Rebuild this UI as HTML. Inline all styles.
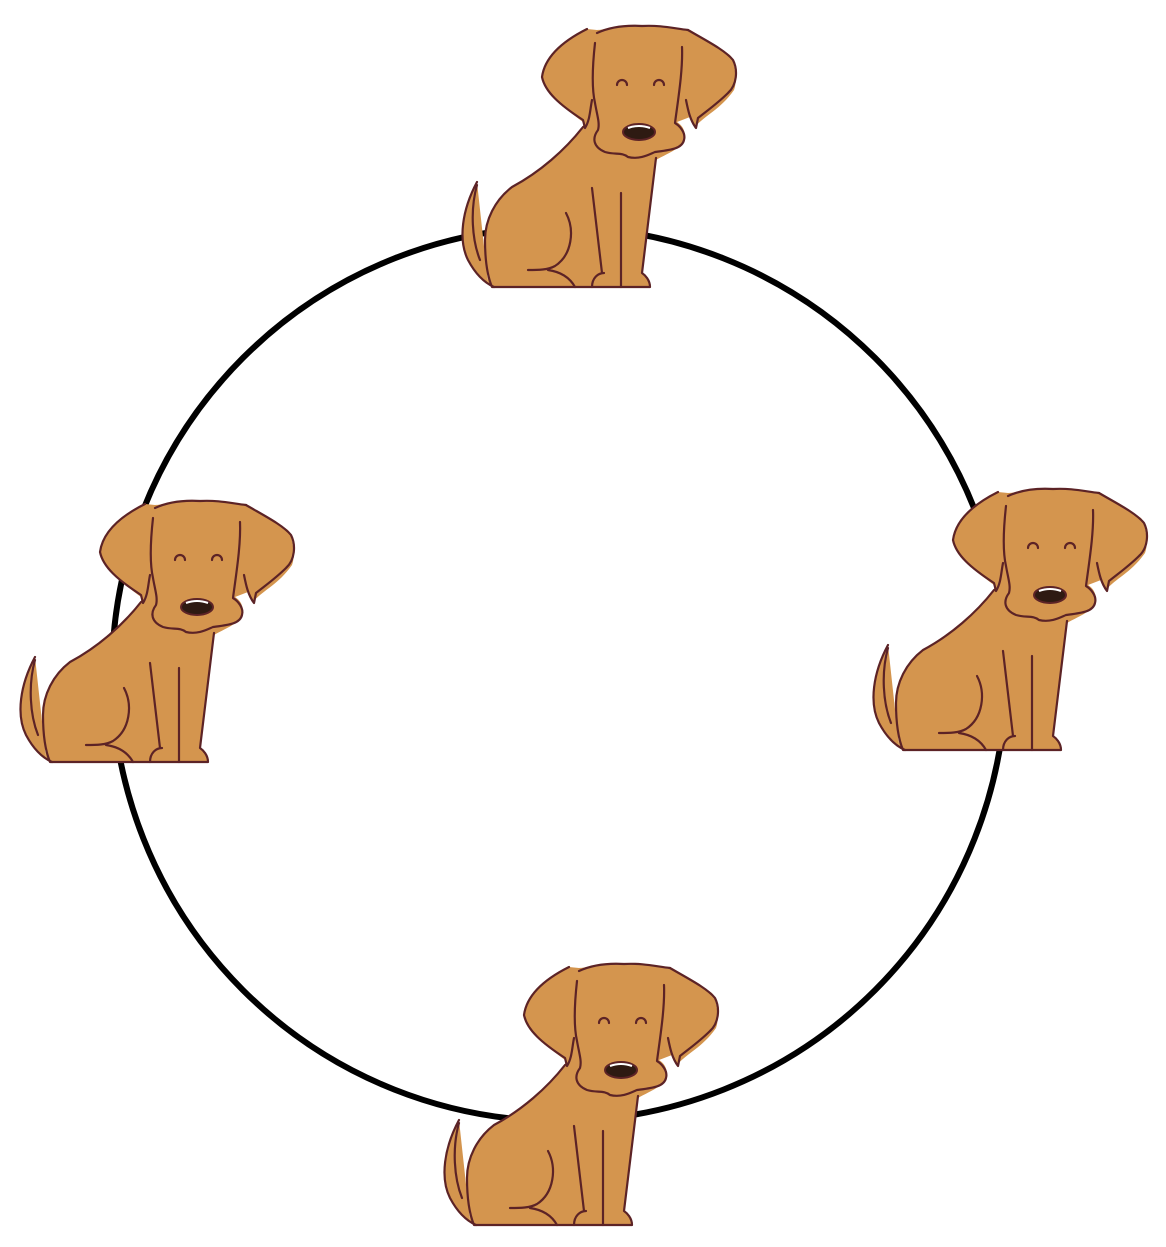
<!DOCTYPE html>
<html><head><meta charset="utf-8"><style>
html,body{margin:0;padding:0;background:#fff;width:1166px;height:1247px;overflow:hidden}
</style></head><body>
<svg width="1166" height="1247" viewBox="0 0 1166 1247">
<defs>
<g id="dog">
  <path d="M477,182 C462,205 458,240 470,262 C478,275 486,283 494,287 L650,287 C652,280 645,275 642,273 L656,160 C670,152 684,148 685,135 C684,127 680,124 677,122 L690,117 C695,125 694,129 695,127 C705,115 720,110 734,90 C738,80 734,60 730,55 L690,30 C670,27 660,25 642,27 C620,25 605,30 597,30 L587,29 C565,40 545,55 542,77 C545,92 560,105 583,122 L583,127 C565,150 540,172 512,187 C495,200 485,220 485,240 L488,283 Z" fill="#d4954e"/>
  <g fill="none" stroke="#5c2326" stroke-width="2.2" stroke-linecap="round" stroke-linejoin="round">
    <path d="M587,29 C565,40 545,55 542,77 C545,92 560,105 583,120 L585,128 C590,120 590,110 592,100"/>
    <path d="M595,43 C592,70 592,90 595,103 C597,115 600,123 598,130 C592,138 593,147 605,152 C615,155 622,152 628,157 C640,160 650,154 655,152 C670,150 682,149 684,140 C686,133 680,126 675,123 C678,100 683,70 682,47"/>
    <path d="M597,33 C610,27 625,25 642,26 C660,25 672,28 688,30"/>
    <path d="M688,30 C705,40 725,50 733,60 C738,70 737,85 728,93 C718,103 708,110 698,118 L696,128 C690,120 688,110 686,100"/>
    <path d="M617,85 A5,5 0 0 1 627,85 M654,85 A5,5 0 0 1 664,85"/>
    <path d="M583,127 C565,150 540,172 512,187 C495,200 485,220 485,240 C485,260 487,275 492,287 L650,287 C650,280 645,275 642,273 L656,158"/>
    <path d="M477,182 C462,210 458,240 468,260 C476,275 485,283 494,287 M480,260 C472,240 470,210 477,185"/>
    <path d="M592,188 L602,273 M621,193 L621,287 M592,287 C592,278 598,273 604,273"/>
    <path d="M566,213 C575,230 572,255 555,266 C548,270 538,270 528,270 M548,270 C562,272 570,278 575,287"/>
  </g>
  <ellipse cx="639" cy="132" rx="16" ry="8" fill="#2e1a12" stroke="#5c2326" stroke-width="2"/>
  <path d="M628,128 Q639,124 650,128" stroke="#fff" stroke-width="2" fill="none"/>
</g>
</defs>
<circle cx="559" cy="674" r="447" fill="none" stroke="#000" stroke-width="6"/>
<use href="#dog"/>
<use href="#dog" transform="translate(-442,475)"/>
<use href="#dog" transform="translate(411,463)"/>
<use href="#dog" transform="translate(-18,938)"/>
</svg>
</body></html>
